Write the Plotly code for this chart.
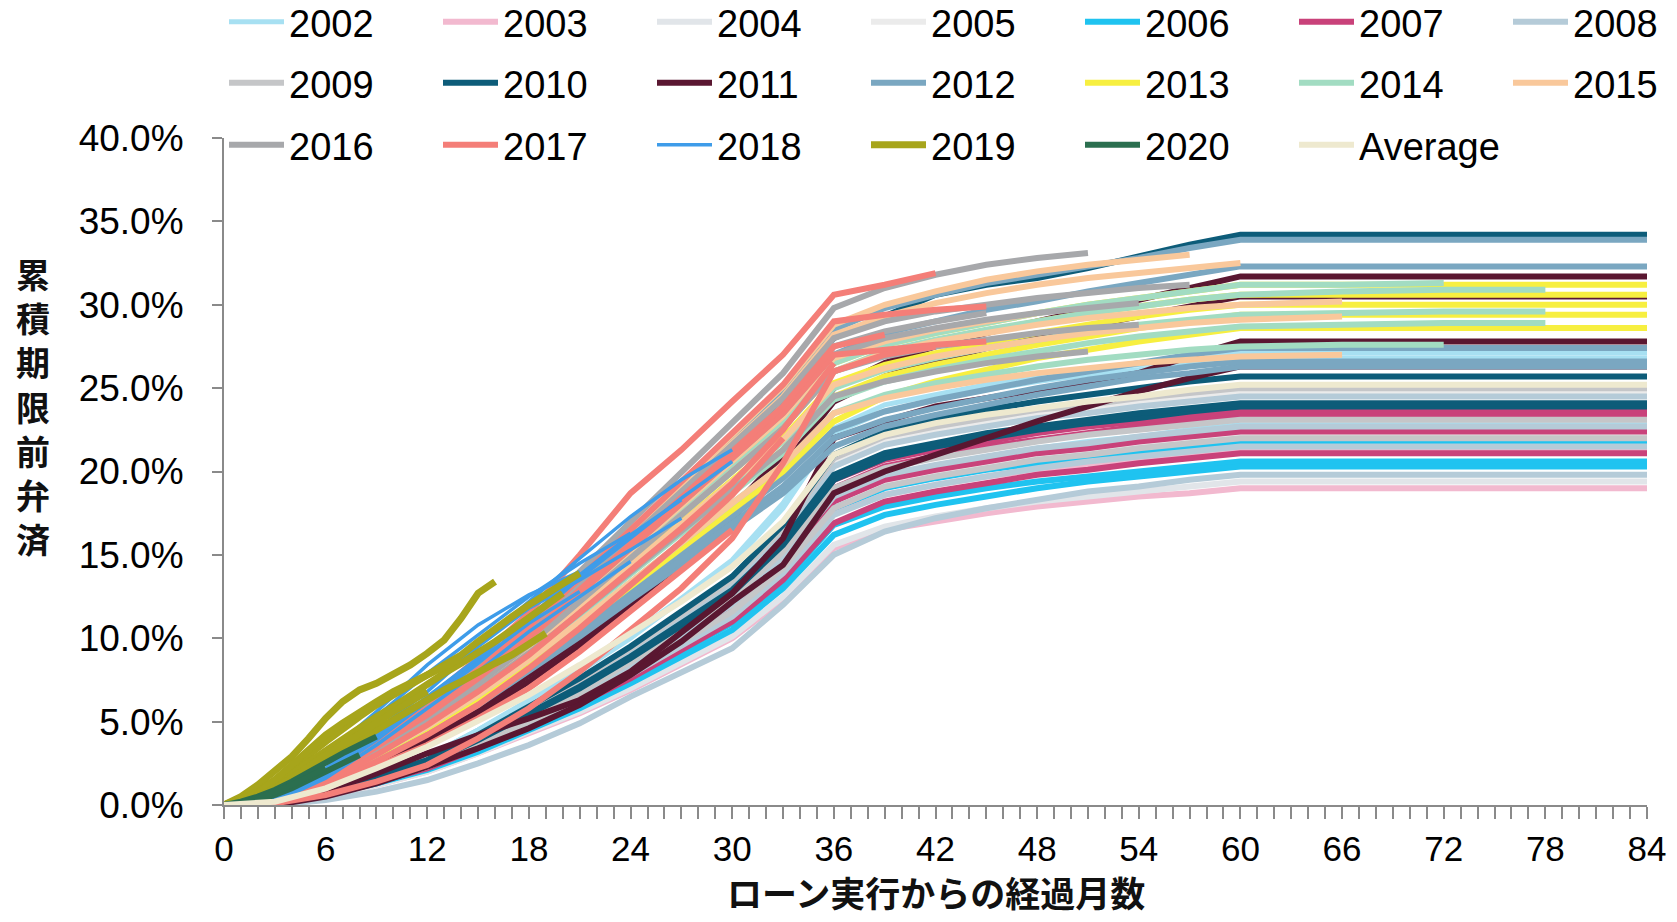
import plotly.graph_objects as go

# ---------------- data (values in %) ----------------
MONTHS = [0, 3, 6, 9, 12, 15, 18, 21, 24, 27, 30, 33, 36, 39, 42, 45, 48, 51, 54, 57, 60, 66, 72, 78, 84]
MONTHS_EARLY = [0, 1, 2, 3, 4, 5, 6, 7, 8, 9, 10, 11, 12, 13, 14, 15, 16, 17, 18, 19, 20, 21]

YEARS = ["2002", "2003", "2004", "2005", "2006", "2007", "2008", "2009", "2010", "2011",
         "2012", "2013", "2014", "2015", "2016", "2017", "2018", "2019", "2020", "Average"]

S2002 = [
    [0, 0.1, 0.8, 1.8, 2.9, 4.5, 6.3, 8.1, 10.2, 12.4, 14.7, 18.1, 22.6, 24.0, 24.6, 25.2, 25.7, 26.1, 26.4, 26.8, 27.1, 27.1, 27.1, 27.1, 27.1],
    [0, 0.1, 0.8, 1.8, 2.9, 4.5, 6.2, 8.0, 10.0, 12.3, 14.5, 17.8, 22.3, 23.6, 24.3, 24.9, 25.4, 25.8, 26.1, 26.5, 26.8, 26.8, 26.8, 26.8, 26.8],
    [0, 0.1, 0.6, 1.5, 2.4, 3.7, 5.1, 6.6, 8.2, 10.1, 11.9, 14.6, 18.3, 19.7, 20.3, 20.9, 21.4, 21.8, 22.1, 22.5, 22.8, 22.8, 22.8, 22.8, 22.8],
]
S2003 = [
    [0, 0.1, 0.5, 1.2, 2.0, 3.1, 4.3, 5.5, 6.9, 8.5, 10.0, 12.3, 15.4, 16.5, 17.0, 17.5, 17.9, 18.2, 18.5, 18.7, 19.0, 19.0, 19.0, 19.0, 19.0],
    [0, 0.1, 0.6, 1.4, 2.3, 3.5, 4.9, 6.3, 7.9, 9.6, 11.4, 14.0, 17.5, 18.6, 19.2, 19.7, 20.1, 20.4, 20.7, 21.0, 21.3, 21.3, 21.3, 21.3, 21.3],
]
S2004 = [
    [0, 0.1, 0.5, 1.2, 2.0, 3.1, 4.4, 5.6, 7.0, 8.6, 10.1, 12.5, 15.6, 16.7, 17.3, 17.8, 18.2, 18.5, 18.8, 19.1, 19.4, 19.4, 19.4, 19.4, 19.4],
    [0, 0.1, 0.7, 1.7, 2.7, 4.2, 5.8, 7.5, 9.4, 11.4, 13.5, 16.6, 20.8, 22.0, 22.6, 23.1, 23.6, 24.0, 24.3, 24.6, 24.9, 24.9, 24.9, 24.9, 24.9],
]
S2005 = [
    [0, 0.1, 0.6, 1.5, 2.4, 3.6, 5.1, 6.6, 8.2, 10.0, 11.8, 14.6, 18.2, 19.4, 20.0, 20.5, 20.9, 21.3, 21.6, 21.9, 22.2, 22.2, 22.2, 22.2, 22.2],
    [0, 0.1, 0.7, 1.6, 2.7, 4.1, 5.8, 7.4, 9.3, 11.3, 13.4, 16.5, 20.6, 21.8, 22.4, 22.9, 23.4, 23.8, 24.1, 24.4, 24.7, 24.7, 24.7, 24.7, 24.7],
]
S2006 = [
    [0, 0.1, 0.6, 1.3, 2.2, 3.4, 4.7, 6.0, 7.6, 9.2, 10.9, 13.4, 16.8, 17.9, 18.5, 19.0, 19.4, 19.7, 20.0, 20.3, 20.6, 20.6, 20.6, 20.6, 20.6],
    [0, 0.1, 0.6, 1.3, 2.1, 3.2, 4.5, 5.8, 7.3, 8.9, 10.5, 13.0, 16.2, 17.4, 18.0, 18.5, 19.0, 19.4, 19.7, 20.0, 20.3, 20.3, 20.3, 20.3, 20.3],
    [0, 0.1, 0.6, 1.4, 2.3, 3.6, 5.0, 6.4, 8.0, 9.8, 11.6, 14.2, 17.8, 19.0, 19.6, 20.1, 20.5, 20.9, 21.2, 21.5, 21.8, 21.8, 21.8, 21.8, 21.8],
]
S2007 = [
    [0, 0.1, 0.7, 1.5, 2.5, 3.8, 5.3, 6.8, 8.6, 10.5, 12.4, 15.2, 19.0, 20.3, 20.9, 21.5, 21.9, 22.3, 22.7, 23.0, 23.3, 23.3, 23.3, 23.3, 23.3],
    [0, 0.1, 0.6, 1.5, 2.4, 3.6, 5.1, 6.6, 8.2, 10.0, 11.8, 14.6, 18.2, 19.5, 20.1, 20.6, 21.1, 21.4, 21.8, 22.1, 22.4, 22.4, 22.4, 22.4, 22.4],
    [0, 0.1, 0.6, 1.4, 2.2, 3.4, 4.7, 6.1, 7.6, 9.3, 11.0, 13.5, 16.9, 18.2, 18.8, 19.3, 19.8, 20.1, 20.5, 20.8, 21.1, 21.1, 21.1, 21.1, 21.1],
    [0, 0.1, 0.7, 1.6, 2.5, 3.9, 5.5, 7.0, 8.8, 10.7, 12.7, 15.6, 19.5, 20.7, 21.3, 21.8, 22.3, 22.7, 23.0, 23.3, 23.6, 23.6, 23.6, 23.6, 23.6],
]
S2008 = [
    [0, 0.1, 0.6, 1.5, 2.4, 3.7, 5.2, 6.7, 8.3, 10.2, 12.0, 14.8, 18.5, 19.8, 20.4, 20.9, 21.4, 21.7, 22.1, 22.4, 22.7, 22.7, 22.7, 22.7, 22.7],
    [0, 0.1, 0.6, 1.4, 2.3, 3.5, 4.9, 6.3, 7.8, 9.6, 11.3, 13.9, 17.4, 18.6, 19.2, 19.7, 20.2, 20.6, 20.9, 21.2, 21.5, 21.5, 21.5, 21.5, 21.5],
    [0, 0.0, 0.3, 0.8, 1.5, 2.5, 3.6, 4.9, 6.5, 8.0, 9.4, 12.0, 15.0, 16.4, 17.2, 17.8, 18.3, 18.8, 19.1, 19.5, 19.8, 19.8, 19.8, 19.8, 19.8],
    [0, 0.1, 0.7, 1.6, 2.6, 4.1, 5.7, 7.3, 9.1, 11.2, 13.2, 16.2, 20.3, 21.6, 22.2, 22.7, 23.2, 23.5, 23.9, 24.2, 24.5, 24.5, 24.5, 24.5, 24.5],
]
S2009 = [
    [0, 0.1, 0.6, 1.4, 2.3, 3.6, 5.0, 6.4, 8.0, 9.8, 11.6, 14.2, 17.8, 19.1, 19.7, 20.2, 20.7, 21.0, 21.4, 21.7, 22.0, 22.0, 22.0, 22.0, 22.0],
    [0, 0.1, 0.7, 1.5, 2.5, 3.8, 5.3, 6.8, 8.6, 10.5, 12.4, 15.2, 19.0, 20.2, 20.8, 21.3, 21.8, 22.2, 22.5, 22.8, 23.1, 23.1, 23.1, 23.1, 23.1],
    [0, 0.1, 0.7, 1.7, 2.7, 4.2, 5.8, 7.5, 9.4, 11.4, 13.5, 16.6, 20.8, 22.1, 22.7, 23.2, 23.7, 24.0, 24.4, 24.7, 25.0, 25.0, 25.0, 25.0, 25.0],
]
S2010 = [
    [0, 0.3, 1.7, 3.6, 5.6, 7.8, 10.4, 13.2, 16.0, 18.8, 21.6, 24.4, 28.0, 29.3, 30.6, 31.2, 31.6, 32.2, 32.9, 33.6, 34.2, 34.2, 34.2, 34.2, 34.2],
    [0, 0.1, 0.7, 1.7, 2.7, 4.2, 5.9, 7.6, 9.5, 11.6, 13.7, 16.8, 21.0, 22.4, 23.1, 23.7, 24.2, 24.6, 25.0, 25.4, 25.7, 25.7, 25.7, 25.7, 25.7],
    [0, 0.1, 0.7, 1.6, 2.5, 3.9, 5.5, 7.0, 8.8, 10.7, 12.7, 15.6, 19.5, 20.8, 21.5, 22.0, 22.5, 22.9, 23.2, 23.6, 23.9, 23.9, 23.9, 23.9, 23.9],
    [0, 0.1, 0.7, 1.6, 2.6, 4.0, 5.5, 7.1, 8.9, 10.9, 12.9, 15.8, 19.8, 21.1, 21.7, 22.3, 22.7, 23.1, 23.5, 23.8, 24.1, 24.1, 24.1, 24.1, 24.1],
]
S2011 = [
    [0, 0.2, 1.1, 2.5, 4.0, 5.8, 7.8, 10.0, 12.5, 15.0, 17.8, 21.0, 25.0, 26.5, 27.5, 28.3, 29.0, 29.7, 30.3, 31.0, 31.7, 31.7, 31.7, 31.7, 31.7],
    [0, 0.2, 1.0, 2.4, 3.8, 5.5, 7.4, 9.6, 12.0, 14.5, 17.2, 20.3, 24.2, 25.7, 26.6, 27.4, 28.1, 28.7, 29.3, 29.9, 30.5, 30.5, 30.5, 30.5, 30.5],
    [0, 0.1, 0.8, 1.9, 3.1, 4.2, 5.2, 6.3, 8.0, 10.3, 12.7, 16.0, 22.0, 23.0, 23.9, 24.4, 24.9, 25.4, 25.9, 26.9, 27.8, 27.8, 27.8, 27.8, 27.8],
    [0, 0.0, 0.5, 1.3, 2.3, 3.4, 4.6, 6.0, 7.8, 9.8, 12.2, 14.4, 18.7, 20.0, 21.0, 22.0, 23.0, 23.9, 24.8, 25.6, 26.3, 26.3, 26.3, 26.3, 26.3],
]
S2012 = [
    [0, 0.3, 1.7, 3.7, 5.7, 8.0, 10.5, 13.4, 16.2, 19.1, 21.9, 24.8, 28.5, 29.8, 30.6, 31.3, 31.8, 32.3, 32.8, 33.4, 33.9, 33.9, 33.9, 33.9, 33.9],
    [0, 0.3, 1.6, 3.5, 5.4, 7.6, 10.0, 12.7, 15.4, 18.1, 20.8, 23.5, 27.0, 28.3, 29.0, 29.7, 30.2, 30.8, 31.3, 31.8, 32.3, 32.3, 32.3, 32.3, 32.3],
    [0, 0.2, 1.4, 2.9, 4.5, 6.3, 8.3, 10.6, 12.8, 15.1, 17.3, 19.6, 22.5, 23.6, 24.3, 24.9, 25.5, 26.0, 26.5, 27.0, 27.4, 27.4, 27.4, 27.4, 27.4],
    [0, 0.2, 1.3, 2.8, 4.3, 6.0, 8.0, 10.1, 12.3, 14.4, 16.6, 18.7, 21.5, 22.7, 23.4, 24.0, 24.6, 25.1, 25.6, 25.9, 26.3, 26.3, 26.3, 26.3, 26.3],
    [0, 0.2, 1.3, 2.9, 4.4, 6.2, 8.1, 10.3, 12.5, 14.7, 16.9, 19.1, 22.0, 23.1, 23.8, 24.4, 25.0, 25.5, 25.9, 26.3, 26.6, 26.6, 26.6, 26.6, 26.6],
]
S2013 = [
    [0, 0.3, 1.6, 3.4, 5.3, 7.4, 9.8, 12.5, 15.1, 17.8, 20.4, 23.1, 26.5, 27.6, 28.3, 28.9, 29.5, 30.0, 30.4, 30.8, 31.2, 31.2, 31.2, 31.2, 31.2],
    [0, 0.3, 1.6, 3.4, 5.2, 7.3, 9.6, 12.2, 14.8, 17.4, 20.0, 22.6, 26.0, 27.1, 27.8, 28.4, 29.0, 29.5, 29.9, 30.3, 30.6, 30.6, 30.6, 30.6, 30.6],
    [0, 0.3, 1.5, 3.3, 5.1, 7.1, 9.4, 11.9, 14.4, 17.0, 19.5, 22.0, 25.3, 26.4, 27.1, 27.7, 28.3, 28.8, 29.3, 29.7, 30.0, 30.0, 30.0, 30.0, 30.0],
    [0, 0.2, 1.5, 3.2, 4.9, 6.9, 9.1, 11.5, 14.0, 16.4, 18.9, 21.3, 24.5, 25.7, 26.4, 27.0, 27.6, 28.1, 28.6, 29.0, 29.4, 29.4, 29.4, 29.4, 29.4],
    [0, 0.2, 1.4, 3.0, 4.6, 6.4, 8.5, 10.8, 13.1, 15.4, 17.7, 20.0, 23.0, 24.5, 25.4, 26.1, 26.8, 27.3, 27.8, 28.2, 28.6, 28.6, 28.6, 28.6, 28.6],
]
S2014 = [
    [0, 0.3, 1.6, 3.4, 5.3, 7.4, 9.8, 12.5, 15.1, 17.8, 20.4, 23.1, 26.5, 27.6, 28.3, 28.9, 29.5, 30.0, 30.4, 30.8, 31.2, 31.2, 31.3],
    [0, 0.3, 1.6, 3.4, 5.2, 7.3, 9.6, 12.2, 14.8, 17.4, 20.0, 22.6, 26.0, 27.2, 27.9, 28.5, 29.0, 29.5, 29.9, 30.3, 30.6, 30.8, 30.9, 30.9],
    [0, 0.3, 1.5, 3.3, 5.0, 7.0, 9.3, 11.8, 14.3, 16.8, 19.3, 21.8, 25.0, 26.1, 26.8, 27.4, 27.9, 28.4, 28.8, 29.1, 29.4, 29.5, 29.6, 29.6],
    [0, 0.2, 1.5, 3.2, 4.9, 6.8, 9.0, 11.4, 13.9, 16.3, 18.7, 21.1, 24.3, 25.4, 26.1, 26.7, 27.2, 27.7, 28.1, 28.4, 28.7, 28.8, 28.9, 28.9],
    [0, 0.2, 1.4, 3.1, 4.7, 6.6, 8.7, 11.0, 13.4, 15.7, 18.1, 20.4, 23.5, 24.6, 25.3, 25.8, 26.3, 26.7, 27.0, 27.3, 27.5, 27.6, 27.6],
]
S2015 = [
    [0, 0.3, 1.7, 3.7, 5.8, 8.1, 10.7, 13.5, 16.4, 19.3, 22.2, 25.1, 28.8, 30.0, 30.8, 31.5, 32.0, 32.4, 32.7, 33.0],
    [0, 0.3, 1.7, 3.7, 5.6, 7.9, 10.4, 13.3, 16.1, 18.9, 21.7, 24.5, 28.2, 29.3, 30.1, 30.7, 31.2, 31.6, 31.9, 32.2, 32.5],
    [0, 0.3, 1.6, 3.4, 5.2, 7.3, 9.6, 12.2, 14.8, 17.4, 20.0, 22.6, 26.0, 27.1, 27.8, 28.3, 28.8, 29.2, 29.5, 29.8, 30.0, 30.2],
    [0, 0.3, 1.5, 3.3, 5.0, 7.1, 9.3, 11.8, 14.4, 16.9, 19.4, 21.9, 25.2, 26.2, 26.9, 27.4, 27.9, 28.3, 28.6, 28.9, 29.1, 29.3],
    [0, 0.2, 1.4, 3.1, 4.7, 6.6, 8.7, 11.0, 13.4, 15.7, 18.1, 20.4, 23.5, 24.4, 25.0, 25.5, 25.9, 26.2, 26.5, 26.7, 26.9, 27.0],
    [0, 0.3, 1.6, 3.5, 5.4, 7.5, 9.9, 12.6, 15.3, 18.0, 20.6, 23.3, 26.8, 27.8, 28.5, 29.0, 29.5],
]
S2016 = [
    [0, 0.3, 1.8, 3.9, 6.0, 8.3, 11.0, 14.0, 17.0, 20.0, 22.9, 25.9, 29.8, 31.0, 31.8, 32.4, 32.8, 33.1],
    [0, 0.3, 1.7, 3.6, 5.6, 7.8, 10.4, 13.2, 16.0, 18.8, 21.6, 24.4, 28.0, 29.0, 29.6, 30.0, 30.4, 30.7, 31.0, 31.2],
    [0, 0.3, 1.6, 3.5, 5.4, 7.6, 10.0, 12.7, 15.4, 18.1, 20.8, 23.5, 27.0, 28.0, 28.6, 29.1, 29.5, 29.8, 30.1],
    [0, 0.3, 1.6, 3.4, 5.2, 7.3, 9.6, 12.2, 14.8, 17.4, 20.0, 22.6, 26.0, 26.9, 27.5, 27.9, 28.3, 28.6, 28.8],
    [0, 0.2, 1.5, 3.2, 4.9, 6.9, 9.1, 11.5, 14.0, 16.4, 18.9, 21.3, 24.5, 25.4, 26.0, 26.5, 26.9, 27.2],
    [0, 0.3, 1.7, 3.6, 5.5, 7.7, 10.2, 12.9, 15.7, 18.4, 21.2, 23.9, 27.5, 28.4, 29.0, 29.5],
]
S2017 = [
    [0, 0.3, 2.0, 4.0, 6.3, 8.8, 11.5, 15.0, 18.7, 21.3, 24.2, 27.0, 30.6, 31.2, 31.9],
    [0, 0.3, 1.8, 3.8, 5.8, 8.1, 10.7, 13.6, 16.5, 19.4, 22.3, 25.2, 29.0, 29.4, 29.7, 29.9],
    [0, 0.3, 1.6, 3.5, 5.4, 7.6, 10.0, 12.7, 15.4, 18.1, 20.8, 23.5, 27.0, 27.3, 27.6, 27.8],
    [0, 0.3, 1.7, 3.6, 5.5, 7.7, 10.2, 12.9, 15.7, 18.4, 21.2, 23.9, 27.5, 28.2],
    [0, 0.1, 0.6, 1.4, 2.4, 4.0, 5.8, 8.0, 10.5, 13.0, 16.0, 20.5, 26.0, 27.0, 27.5],
    [0, 0.2, 1.2, 2.6, 4.2, 6.0, 8.2, 10.6, 13.2, 15.8, 18.6, 22.0],
    [0, 0.2, 1.0, 2.3, 3.6, 5.2, 7.0, 9.2, 11.6, 14.0, 16.5],
    [0, 0.2, 1.4, 3.0, 4.8, 6.8, 9.0, 11.5, 14.0, 16.6, 19.3, 22.5, 26.5],
]
S2018 = [
    [0, 0.5, 2.5, 4.8, 7.2, 9.6, 12.2, 14.8, 17.3, 19.5, 21.3],
    [0, 0.3, 2.0, 4.2, 6.5, 8.8, 11.3, 13.8, 16.2, 18.3],
    [0, 0.4, 2.2, 4.5, 6.8, 9.5, 11.8, 13.5, 15.3, 17.2],
    [0, 0.2, 1.6, 3.6, 5.8, 8.0, 10.4, 12.5, 14.6],
    [0, 0.5, 2.8, 5.3, 7.9, 10.2, 12.5, 14.5, 16.3],
    [0, 0.3, 1.8, 3.9, 6.2, 8.6, 10.9, 12.8],
    [0, 0.6, 3.0, 5.6, 8.4, 10.8, 12.6, 14.0],
    [0, 0.3, 1.9, 4.0, 6.2, 8.5, 11.0, 13.6, 16.0, 18.4, 20.6],
]
S2019 = [
    [0, 0.5, 1.2, 2.0, 2.9, 4.0, 5.2, 6.2, 6.9, 7.3, 7.8, 8.4, 9.1, 9.9, 11.2, 12.7, 13.4],
    [0, 0.4, 0.8, 1.5, 2.2, 3.0, 3.8, 4.6, 5.3, 6.0, 6.6, 7.2, 7.8, 8.4, 9.0, 9.8, 10.6, 11.3, 12.0, 12.6, 13.2, 13.9],
    [0, 0.3, 0.6, 1.2, 1.9, 2.6, 3.3, 4.0, 4.6, 5.3, 5.9, 6.6, 7.3, 7.9, 8.5, 9.1, 9.8, 10.5, 11.2, 12.0, 12.7],
    [0, 0.2, 0.4, 0.9, 1.5, 2.1, 2.8, 3.4, 4.0, 4.6, 5.2, 5.7, 6.3, 6.9, 7.4, 8.0, 8.5, 9.0, 9.6, 10.3],
    [0, 0.4, 0.7, 1.5, 2.4, 3.3, 4.2, 4.9, 5.6, 6.2, 6.8, 7.3, 7.8, 8.3, 8.8],
    [0, 0.2, 0.5, 1.0, 1.6, 2.3, 3.0, 3.6, 4.2, 4.9, 5.6, 6.2, 6.8],
]
S2020 = [
    [0, 0.2, 0.5, 0.9, 1.4, 2.0, 2.6, 3.1, 3.6, 4.1],
    [0, 0.1, 0.3, 0.6, 1.0, 1.5, 2.0, 2.5, 3.0],
    [0, 0.1, 0.4, 0.8, 1.2, 1.7, 2.2],
]
SAVG = [
    [0, 0.2, 1.0, 2.2, 3.5, 5.0, 6.6, 8.4, 10.3, 12.2, 14.3, 17.0, 21.0, 22.2, 22.9, 23.4, 23.8, 24.2, 24.5, 24.9, 25.2, 25.2, 25.2, 25.2, 25.2],
]

SERIES = [S2002, S2003, S2004, S2005, S2006, S2007, S2008, S2009, S2010, S2011,
          S2012, S2013, S2014, S2015, S2016, S2017, S2018, S2019, S2020, SAVG]

Y_TICKS = [0, 5, 10, 15, 20, 25, 30, 35, 40]
Y_TICK_TEXT = ["0.0%", "5.0%", "10.0%", "15.0%", "20.0%", "25.0%", "30.0%", "35.0%", "40.0%"]
X_TICKS = [0, 6, 12, 18, 24, 30, 36, 42, 48, 54, 60, 66, 72, 78, 84]

# ---------------- styles ----------------
COLORS = ["#a7e0f2", "#f2b9cf", "#e1e5e9", "#ebebeb", "#1fc3f0", "#c9427a", "#b5cbd8",
          "#c5c6c8", "#0d5c79", "#5a1731", "#7aa7c1", "#f7ef40", "#a2dcc2", "#f9c89b",
          "#a7a8ab", "#f47e78", "#3e9ce9", "#a7a51b", "#2b6f4f", "#eee9cf"]
WIDTHS = [5, 6, 6, 6, 6, 6, 6, 6, 6, 6, 6, 6, 6, 6, 6, 6, 3.5, 7, 6, 6]
LEGEND_OF = ["legend"] * 4 + ["legend2"] * 3 + ["legend3"] * 4 + ["legend4"] * 3 + ["legend5"] * 6

fig = go.Figure()
for yi, year in enumerate(YEARS):
    grid = MONTHS_EARLY if year in ("2019", "2020") else MONTHS
    for li, vals in enumerate(SERIES[yi]):
        fig.add_trace(go.Scatter(
            x=grid[:len(vals)], y=vals, mode="lines", name=year,
            legendgroup=year, showlegend=(li == 0), legend=LEGEND_OF[yi],
            line=dict(color=COLORS[yi], width=WIDTHS[yi]),
            hoverinfo="skip"))

FONT = "Liberation Sans, Arial, sans-serif"
AXIS_GRAY = "#8a8a8a"
L, R, T, B = 224, 30, 138, 117
W, H = 1677, 922
PW = W - L - R
PH = H - T - B


def px_x(px):
    return (px - L) / PW


def px_y(py):
    return (H - B - py) / PH


def legend_box(x_px, y_px):
    return dict(orientation="h", x=px_x(x_px), y=px_y(y_px), xanchor="left", yanchor="middle",
                entrywidth=144, entrywidthmode="pixels", itemwidth=55,
                font=dict(family=FONT, size=38, color="#000000"),
                bgcolor="rgba(0,0,0,0)", traceorder="normal", itemclick=False,
                itemdoubleclick=False)


COL0, COL4 = 224, 224 + 4 * 214
fig.update_layout(
    width=W, height=H,
    margin=dict(l=L, r=R, t=T, b=B, autoexpand=False),
    paper_bgcolor="white", plot_bgcolor="white",
    legend=legend_box(COL0, 22),
    legend2=legend_box(COL4, 22),
    legend3=legend_box(COL0, 83),
    legend4=legend_box(COL4, 83),
    legend5=legend_box(COL0, 145),
    xaxis=dict(range=[0, 84], tickmode="array", tickvals=X_TICKS, showgrid=False, zeroline=False,
               showline=True, linecolor=AXIS_GRAY, linewidth=2,
               ticks="outside", ticklen=12, tickwidth=1.5, tickcolor=AXIS_GRAY,
               ticklabelstandoff=0,
               minor=dict(tickmode="linear", tick0=0, dtick=1, ticks="outside", ticklen=12,
                          tickwidth=1.5, tickcolor=AXIS_GRAY, showgrid=False),
               tickfont=dict(family=FONT, size=35, color="#000000")),
    yaxis=dict(range=[0, 40], tickmode="array", tickvals=Y_TICKS, ticktext=Y_TICK_TEXT,
               showgrid=False, zeroline=False, showline=True, linecolor=AXIS_GRAY, linewidth=2,
               ticks="outside", ticklen=10, tickwidth=1.5, tickcolor=AXIS_GRAY,
               ticklabelstandoff=21,
               tickfont=dict(family=FONT, size=37, color="#000000")),
    annotations=[
        dict(text="累<br>積<br>期<br>限<br>前<br>弁<br>済", xref="paper", yref="paper",
             x=px_x(33), y=px_y(406), xanchor="center", yanchor="middle", showarrow=False,
             font=dict(family="Noto Sans CJK JP", size=34, color="#111111", weight="bold")),
        dict(text="ローン実行からの経過月数", xref="paper", yref="paper",
             x=px_x(936), y=px_y(891), xanchor="center", yanchor="middle", showarrow=False,
             font=dict(family="Noto Sans CJK JP", size=35, color="#111111", weight="bold")),
    ],
    showlegend=True,
)

fig.write_html("out.html", config={"displayModeBar": False},
               post_script="document.body.style.margin='0';document.body.style.overflow='hidden';")
